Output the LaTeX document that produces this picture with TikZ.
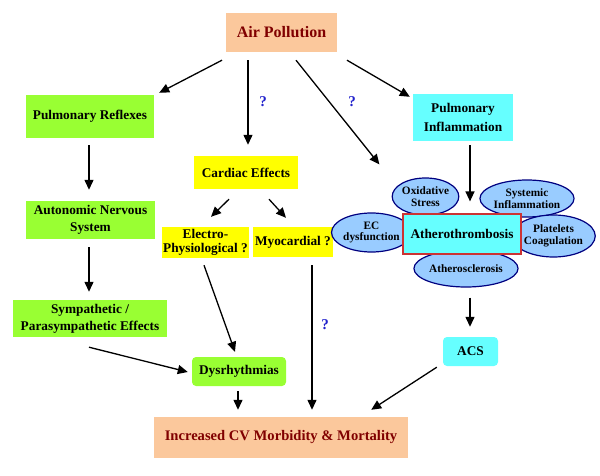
\documentclass[tikz,border=0pt]{standalone}
\usepackage{fontspec}
\setmainfont{Liberation Serif}
\usetikzlibrary{arrows.meta,shapes.geometric,calc}
\definecolor{peach}{HTML}{FBC89C}
\definecolor{lime}{HTML}{99FF33}
\definecolor{cyanb}{HTML}{66FFFF}
\definecolor{yel}{HTML}{FFFF00}
\definecolor{dred}{HTML}{800000}
\definecolor{ellfill}{HTML}{99CCFF}
\definecolor{ellline}{HTML}{000080}
\definecolor{qblue}{HTML}{2222CC}
\definecolor{boxred}{HTML}{CC3333}
\tikzset{
  box/.style={inner sep=0pt, align=center, font=\fontsize{13.3}{15}\selectfont\bfseries},
  peachbox/.style={box, fill=peach, text=dred},
  greenbox/.style={box, fill=lime},
  cyanbox/.style={box, fill=cyanb},
  yelbox/.style={box, fill=yel},
  ell/.style={ellipse, inner sep=0pt, align=center, fill=ellfill, draw=ellline, line width=1.2pt,
    font=\fontsize{11.3}{11.8}\selectfont\bfseries},
  conn/.style={line width=1.3pt, -{Triangle[length=10pt,width=9pt]}},
  qmark/.style={text=qblue, font=\fontsize{15}{16}\selectfont\bfseries}
}
\begin{document}
\begin{tikzpicture}[x=1pt,y=-1pt]
\useasboundingbox (0,0) rectangle (600,476);
% boxes
\node[peachbox, minimum width=111pt, minimum height=39pt, font=\fontsize{16}{18}\selectfont\bfseries] (air) at (281.5,32.5) {Air Pollution};
\node[greenbox, minimum width=128pt, minimum height=43pt] (pr) at (90,116.5) {Pulmonary Reflexes};
\node[cyanbox, minimum width=100pt, minimum height=47pt, font=\fontsize{13.3}{19}\selectfont\bfseries] (pi) at (463,117.5) {Pulmonary\\Inflammation};
\node[yelbox, minimum width=104pt, minimum height=33pt] (ce) at (246,172.5) {Cardiac Effects};
\node[greenbox, minimum width=129pt, minimum height=38pt, font=\fontsize{13.3}{16.5}\selectfont\bfseries] (ans) at (90.5,220) {Autonomic Nervous\\System};
\node[yelbox, minimum width=87pt, minimum height=31pt, font=\fontsize{13.3}{13.5}\selectfont\bfseries] (el) at (205.5,242.5) {Electro-\\Physiological ?};
\node[yelbox, minimum width=80pt, minimum height=30pt] (my) at (293,242) {Myocardial ?};
\node[greenbox, minimum width=154pt, minimum height=37pt, font=\fontsize{13.3}{17}\selectfont\bfseries] (sym) at (90,318.5) {Sympathetic /\\Parasympathetic Effects};
\node[greenbox, minimum width=94pt, minimum height=29pt, rounded corners=4pt] (dys) at (239,371.5) {Dysrhythmias};
\node[cyanbox, minimum width=55pt, minimum height=29pt, rounded corners=4pt] (acs) at (470.5,351.5) {ACS};
\node[peachbox, minimum width=254pt, minimum height=41pt, font=\fontsize{14.6}{17}\selectfont\bfseries] (inc) at (281,437.5) {Increased CV Morbidity \& Mortality};
% atherothrombosis cluster
\node[ell, minimum width=55pt, minimum height=37pt] (ox) at (425.5,196.5) {Oxidative\\Stress};
\node[ell, minimum width=82pt, minimum height=37pt] (sys) at (527,198.5) {Systemic\\Inflammation};
\node[ell, minimum width=67pt, minimum height=39pt] (ec) at (371.5,232.5) {EC\\dysfunction};
\node[ell, minimum width=69pt, minimum height=42pt] (pl) at (553.5,236) {Platelets\\Coagulation};
\node[ell, minimum width=82pt, minimum height=37pt] (ats) at (466,268.5) {Atherosclerosis};
\node[cyanbox, draw=boxred, line width=1.2pt, minimum width=118pt, minimum height=40pt] (ath) at (462,234) {Atherothrombosis};
% connectors
\draw[conn] ($(air.south)+(-59.5,8)$) -- ($(pr.north east)+(5,-2)$);
\draw[conn] ($(air.south)+(-33.5,8)$) -- ($(ce.north)+(2,-11)$);
\draw[conn] ($(air.south)+(14.5,8)$) -- ($(ath.north west)+(-23,-49)$);
\draw[conn] ($(air.south)+(65.5,8)$) -- ($(pi.north west)+(-3,3)$);
\draw[conn] ($(pr.south)+(-1,7)$) -- ($(ans.north)+(-1.5,-11)$);
\draw[conn] ($(ans.south)+(-1.5,8)$) -- ($(sym.north)+(-1,-8)$);
\draw[conn] ($(ce.south)+(-17,10)$) -- ($(el.north)+(5.5,-10)$);
\draw[conn] ($(ce.south)+(23,10)$) -- ($(my.north)+(-7,-9)$);
\draw[conn] ($(el.south)+(-1.5,7)$) -- ($(dys.north)+(-4,-5)$);
\draw[conn] ($(sym.south)+(-1,10)$) -- ($(dys.west)+(-4,0.5)$);
\draw[conn] ($(my.south)+(19,8)$) -- ($(inc.north)+(31,-7)$);
\draw[conn] ($(dys.south)+(-1,5)$) -- ($(inc.north)+(-43,-7)$);
\draw[conn] ($(pi.south)+(7,4)$) -- ($(ath.north)+(8,-12)$);
\draw[conn] ($(ath.south)+(8,43)$) -- ($(acs.north)+(-0.5,-10)$);
\draw[conn] ($(acs.south west)+(-6,1)$) -- ($(inc.north east)+(-37,-7)$);
% question marks
\node[qmark] (q1) at (263,101.5) {?};
\node[qmark] (q2) at (352,101.5) {?};
\node[qmark] (q3) at (325,324.5) {?};
\end{tikzpicture}
\end{document}
